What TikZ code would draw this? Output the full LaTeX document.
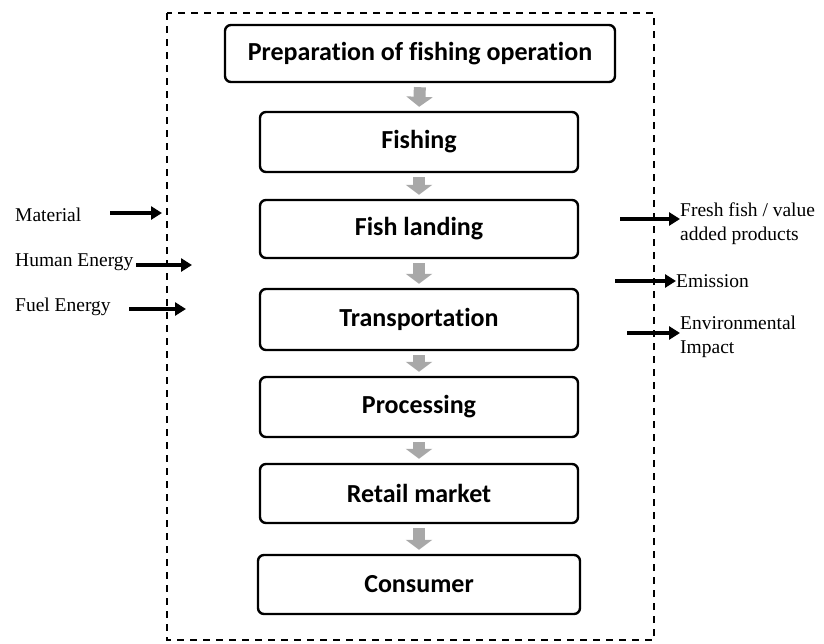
\documentclass[tikz,border=0pt]{standalone}
\usepackage{fontspec}
\setmainfont{Liberation Serif}
\newfontfamily\boxfont[Ligatures=NoCommon]{Carlito}
\usetikzlibrary{arrows.meta}
\definecolor{flowgray}{RGB}{168,168,168}
\tikzset{
  stepbox/.style={draw=black, line width=2.4pt, rounded corners=6pt, fill=white, font=\boxfont\bfseries\fontsize{26}{30}\selectfont},
  flowarrow/.style={draw=flowgray, line width=12pt, -{Triangle[width=26pt,length=10pt]}, shorten <=4pt, shorten >=4pt},
  blackarrow/.style={draw=black, line width=3.8pt, -{Triangle[width=13pt,length=11pt]}},
  lbl/.style={font=\fontsize{19.5}{24}\selectfont, inner sep=0pt, align=left, anchor=west},
}
\begin{document}
\begin{tikzpicture}[x=1pt,y=-1pt]
\useasboundingbox (0,0) rectangle (824,643);
\draw[dashed, line width=1.6pt, dash pattern=on 7pt off 6pt] (167,13) rectangle (654,640);

\node[stepbox, minimum width=390pt, minimum height=57pt] (prep) at (420,53.5) {Preparation of fishing operation};
\node[stepbox, minimum width=318pt, minimum height=60pt] (fish) at (419,142) {Fishing};
\node[stepbox, minimum width=318pt, minimum height=58pt] (land) at (419,229) {Fish landing};
\node[stepbox, minimum width=318pt, minimum height=61pt] (trans) at (419,319.5) {Transportation};
\node[stepbox, minimum width=318pt, minimum height=60pt] (proc) at (419,407) {Processing};
\node[stepbox, minimum width=318pt, minimum height=59pt] (retail) at (419,493.5) {Retail market};
\node[stepbox, minimum width=322pt, minimum height=59pt] (cons) at (419,584.5) {Consumer};

\draw[flowarrow] (prep.south) -- (fish.north);
\draw[flowarrow] (fish.south) -- (land.north);
\draw[flowarrow] (land.south) -- (trans.north);
\draw[flowarrow] (trans.south) -- (proc.north);
\draw[flowarrow] (proc.south) -- (retail.north);
\draw[flowarrow] (retail.south) -- (cons.north);

% inputs
\node[lbl] (mat) at (15,215) {Material};
\node[lbl] (hum) at (15,262) {Human Energy};
\node[lbl] (fuel) at (15,307) {Fuel Energy};
\coordinate (matS) at (110,213);
\coordinate (matE) at (162,213);
\coordinate (humS) at (136,265);
\coordinate (humE) at (192,265);
\coordinate (fuelS) at (129,309);
\coordinate (fuelE) at (186,309);
\draw[blackarrow] (matS) -- (matE);
\draw[blackarrow] (humS) -- (humE);
\draw[blackarrow] (fuelS) -- (fuelE);

% outputs
\node[lbl] (fresh) at (680,224) {Fresh fish / value\\added products};
\node[lbl] (emis) at (676,281) {Emission};
\node[lbl] (env) at (680,337) {Environmental\\Impact};
\coordinate (freshS) at (620,219);
\coordinate (emisS) at (615,281);
\coordinate (envS) at (627,333);
\draw[blackarrow] (freshS) -- (fresh.west |- freshS);
\draw[blackarrow] (emisS) -- (emis.west);
\draw[blackarrow] (envS) -- (env.west |- envS);
\end{tikzpicture}
\end{document}
